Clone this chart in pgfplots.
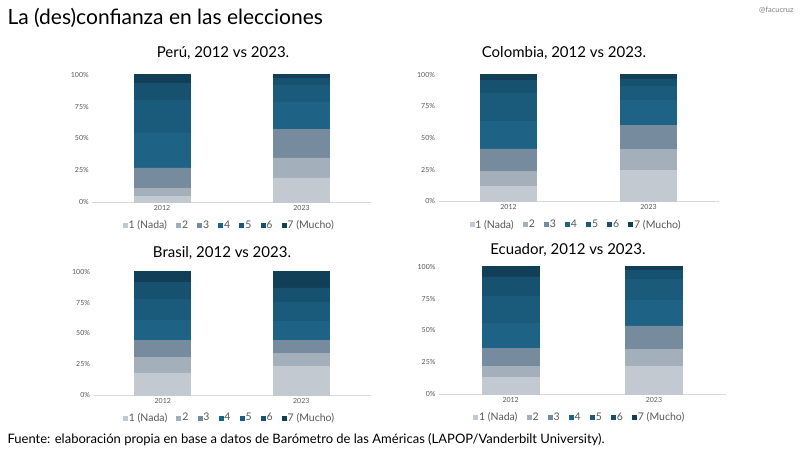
\documentclass[border=0pt]{standalone}
\usepackage{fontspec}
\setmainfont{Lato}
\usepackage{pgfplots}
\usepackage{pgfplotstable}
\pgfplotsset{compat=1.18}

\definecolor{c1}{HTML}{C2C9D0}
\definecolor{c2}{HTML}{A3B0BB}
\definecolor{c3}{HTML}{778B9E}
\definecolor{c4}{HTML}{1E6385}
\definecolor{c5}{HTML}{1A5B7C}
\definecolor{c6}{HTML}{175170}
\definecolor{c7}{HTML}{113F58}
\definecolor{axisgray}{HTML}{D9D9D9}
\definecolor{tickgray}{HTML}{595959}

\pgfplotstableread{
x s1 s2 s3 s4 s5 s6 s7
0 4.6 5.9 16.3 27.5 25.2 13.5 7.0
1 19.0 15.6 22.2 21.2 13.7 5.8 2.5
}\peru
\pgfplotstableread{
x s1 s2 s3 s4 s5 s6 s7
0 12.0 11.9 17.5 21.7 22.5 9.7 4.7
1 24.6 16.6 18.9 19.4 11.5 5.5 3.5
}\colombia
\pgfplotstableread{
x s1 s2 s3 s4 s5 s6 s7
0 17.9 12.4 13.9 16.0 17.6 13.4 8.8
1 23.0 11.0 10.5 15.5 15.5 11.3 13.2
}\brasil
\pgfplotstableread{
x s1 s2 s3 s4 s5 s6 s7
0 13.2 8.7 14.1 19.7 21.4 14.9 8.0
1 21.9 13.2 18.4 20.0 16.5 7.4 2.6
}\ecuador

\pgfplotsset{panel/.style={
  scale only axis, anchor=south west, ybar stacked, bar width=56pt,
  ymin=0, ymax=100, xmin=-0.5, xmax=1.5,
  xtick={0,1}, xticklabels={2012,2023},
  ytick={0,25,50,75,100}, yticklabels={0\%,25\%,50\%,75\%,100\%},
  axis x line*=bottom, axis y line*=left, axis line style={-},
  x axis line style={draw=axisgray, line width=0.8pt}, y axis line style={draw=none},
  major tick length=0pt, xtick style={draw=none}, ytick style={draw=none},
  tick label style={font=\fontsize{7}{8}\selectfont, text=tickgray},
  /pgf/number format/assume math mode=true,
  clip=false,
  legend columns=7,
  legend style={draw=none, fill=none, at={(0.49,-0.185)}, anchor=center,
    font=\fontsize{10.5}{12}\selectfont, text=tickgray,
    nodes={inner sep=1.2pt},
    /tikz/every odd column/.append style={column sep=0pt},
    /tikz/every even column/.append style={column sep=8pt},
    inner sep=0pt},
  legend image code/.code={\fill[##1] (0pt,-2pt) rectangle (4pt,2pt);},
}}

\newcommand{\bars}[1]{%
  \addplot[fill=c1, draw=c1, line width=0.6pt] table[x=x,y=s1]{#1};
  \addplot[fill=c2, draw=c2, line width=0.6pt] table[x=x,y=s2]{#1};
  \addplot[fill=c3, draw=c3, line width=0.6pt] table[x=x,y=s3]{#1};
  \addplot[fill=c4, draw=c4, line width=0.6pt] table[x=x,y=s4]{#1};
  \addplot[fill=c5, draw=c5, line width=0.6pt] table[x=x,y=s5]{#1};
  \addplot[fill=c6, draw=c6, line width=0.6pt] table[x=x,y=s6]{#1};
  \addplot[fill=c7, draw=c7, line width=0.6pt] table[x=x,y=s7]{#1};
  \legend{1 (Nada),2,3,4,5,6,7 (Mucho)}
}

\begin{document}
\begin{tikzpicture}
\useasboundingbox (0,0) rectangle (800pt,450pt);
\fill[white] (0,0) rectangle (800pt,450pt);

\node[anchor=west, font=\fontsize{21}{25}\selectfont] at (4pt,432pt) {La (des)confianza en las elecciones};
\node[anchor=east, font=\fontsize{7.5}{8}\selectfont, text=gray] at (797pt,440pt) {@facucruz};

\node[font=\fontsize{15}{18}\selectfont] at (223pt,397pt) {Perú, 2012 vs 2023.};
\node[font=\fontsize{15}{18}\selectfont] at (564pt,397pt) {Colombia, 2012 vs 2023.};
\node[font=\fontsize{15}{18}\selectfont] at (222pt,197pt) {Brasil, 2012 vs 2023.};
\node[font=\fontsize{15}{18}\selectfont] at (568pt,200pt) {Ecuador, 2012 vs 2023.};

\begin{axis}[panel, at={(92.25pt,248pt)}, width=279pt, height=127.3pt]
\bars{\peru}
\end{axis}

\begin{axis}[panel, at={(438.5pt,248.7pt)}, width=280pt, height=126.6pt]
\bars{\colombia}
\end{axis}

\begin{axis}[panel, at={(93.5pt,55pt)}, width=277pt, height=123.3pt]
\bars{\brasil}
\end{axis}

\begin{axis}[panel, at={(439pt,56pt)}, width=286.6pt, height=127.3pt, bar width=57pt]
\bars{\ecuador}
\end{axis}

\node[anchor=west, font=\fontsize{13}{15}\selectfont] at (4pt,10pt) {Fuente: elaboración propia en base a datos de Barómetro de las Américas (LAPOP/Vanderbilt University).};
\end{tikzpicture}
\end{document}
